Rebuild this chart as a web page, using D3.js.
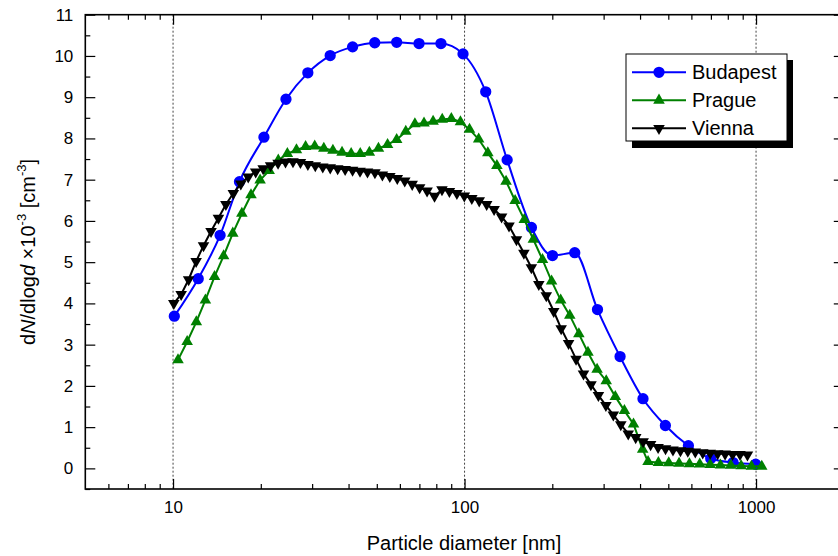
<!DOCTYPE html>
<html>
<head>
<meta charset="utf-8">
<script src="https://d3js.org/d3.v7.min.js"></script>
<style>
  body { margin: 0; background: #fff; }
  text { font-family: "Liberation Sans", Arial, Helvetica, sans-serif; }
</style>
</head>
<body>
<div id="chart"></div>
<script>
// Budapest (circles)
var budapestD = [10.1, 12.2, 14.5, 16.9, 20.5, 24.4, 29.0, 34.6, 41.3, 49.2, 58.5, 69.8, 83.0, 98.8,
                 118.2, 140, 169.6, 200.3, 238.8, 285.8, 341.6, 409.4, 488.6, 586, 699, 834, 997];
var budapestN = [3.69, 4.60, 5.65, 6.95, 8.03, 8.95, 9.59, 10.01, 10.22, 10.32, 10.33, 10.30, 10.30, 10.05,
                 9.13, 7.48, 5.84, 5.16, 5.23, 3.85, 2.71, 1.69, 1.04, 0.55, 0.24, 0.14, 0.10];

// Prague (up triangles)
var pragueD = [10.40, 11.18, 12.02, 12.91, 13.88, 14.91, 16.03, 17.22, 18.51, 19.89, 21.37, 22.96, 24.67,
               26.51, 28.49, 30.62, 32.90, 35.35, 37.99, 40.83, 43.87, 47.15, 50.66, 54.44, 58.50, 62.87,
               67.56, 72.60, 78.01, 83.83, 90.08, 96.80, 104.0, 111.8, 120.2, 129.1, 138.8, 149.1, 160.3,
               172.2, 185.1, 198.9, 213.7, 229.6, 246.7, 265.1, 284.9, 306.2, 329.0, 353.5, 379.9, 408.3,
               426.1, 462.4, 501.8, 544.4, 590.8, 641.0, 695.9, 755.0, 819.0, 889.0, 964.3, 1046];
var pragueN = [2.63, 3.07, 3.55, 4.08, 4.65, 5.15, 5.70, 6.18, 6.63, 6.99, 7.22, 7.47, 7.63,
               7.72, 7.80, 7.81, 7.76, 7.71, 7.66, 7.63, 7.63, 7.66, 7.76, 7.85, 7.97, 8.17,
               8.35, 8.37, 8.41, 8.46, 8.48, 8.40, 8.22, 7.98, 7.65, 7.34, 6.96, 6.49, 6.03,
               5.55, 5.06, 4.54, 4.08, 3.71, 3.26, 2.81, 2.40, 2.12, 1.74, 1.40, 1.07, 0.46,
               0.16, 0.14, 0.13, 0.12, 0.11, 0.10, 0.09, 0.08, 0.07, 0.06, 0.05, 0.05];

// Vienna (down triangles)
var viennaD = [10.06, 10.66, 11.31, 12.00, 12.72, 13.50, 14.31, 15.18, 16.10, 17.08, 18.11, 19.21, 20.38,
               21.61, 22.92, 24.31, 25.79, 27.35, 29.01, 30.76, 32.63, 34.61, 36.71, 38.94, 41.29, 43.80,
               46.45, 49.27, 52.26, 55.42, 58.78, 62.35, 66.12, 70.14, 74.38, 78.89, 83.68, 88.74, 94.13,
               99.82, 105.9, 112.3, 119.1, 126.3, 134.0, 142.1, 150.7, 159.8, 169.5, 179.8, 190.7, 202.3,
               214.5, 227.5, 241.3, 255.9, 271.5, 287.9, 305.4, 323.9, 343.6, 364.4, 386.5, 410.0, 434.8,
               461.2, 489.2, 518.8, 550.3, 583.4, 618.8, 656.4, 696.2, 738.4, 783.1, 830.7, 881.0, 934.3];
var viennaN = [4.00, 4.22, 4.58, 5.02, 5.40, 5.75, 6.07, 6.40, 6.67, 6.90, 7.07, 7.19, 7.27,
               7.34, 7.40, 7.43, 7.44, 7.42, 7.37, 7.34, 7.31, 7.29, 7.27, 7.25, 7.23, 7.21,
               7.19, 7.17, 7.12, 7.08, 7.03, 6.97, 6.89, 6.81, 6.73, 6.60, 6.76, 6.72, 6.67,
               6.61, 6.55, 6.49, 6.40, 6.28, 6.10, 5.88, 5.55, 5.22, 4.87, 4.46, 4.19, 3.81,
               3.39, 3.03, 2.65, 2.29, 2.03, 1.77, 1.53, 1.30, 1.06, 0.84, 0.75, 0.65, 0.58,
               0.51, 0.48, 0.45, 0.43, 0.42, 0.40, 0.38, 0.37, 0.36, 0.35, 0.34, 0.34, 0.33];

var xMajor = [10, 100, 1000];
var xMinor = [6, 7, 8, 9, 20, 30, 40, 50, 60, 70, 80, 90, 200, 300, 400, 500, 600, 700, 800, 900];
var yMajor = [0, 1, 2, 3, 4, 5, 6, 7, 8, 9, 10, 11];
var yMinor = [-0.5, 0.5, 1.5, 2.5, 3.5, 4.5, 5.5, 6.5, 7.5, 8.5, 9.5, 10.5];

var width = 838, height = 556;
var plotL = 85.3, plotR = 843.8, plotT = 14.7, plotB = 489;

var svg = d3.select("#chart").append("svg")
    .attr("width", width)
    .attr("height", height);

var x = d3.scaleLog().domain([5, 2000]).range([plotL, plotR]);
var y = d3.scaleLinear().domain([-0.5, 11]).range([plotB, plotT]);

// dotted grid lines at the decades
svg.append("g").selectAll("line")
    .data(xMajor)
    .enter().append("line")
    .attr("x1", function(d) { return x(d); })
    .attr("x2", function(d) { return x(d); })
    .attr("y1", plotT)
    .attr("y2", plotB)
    .attr("stroke", "#444")
    .attr("stroke-width", 1)
    .attr("stroke-dasharray", "2,2");

// axes (ticks pointing inwards)
function noDomain(g) { g.select(".domain").remove(); g.selectAll("line").attr("stroke-width", 1.2); }

svg.append("g").attr("transform", "translate(0," + plotB + ")")
    .call(d3.axisBottom(x).tickValues(xMajor).tickSize(-10).tickPadding(12).tickFormat(d3.format("d")))
    .call(noDomain)
    .selectAll("text").attr("font-size", 17).attr("fill", "#000")
    .style("font-family", "'Liberation Sans', Arial, sans-serif");
svg.append("g").attr("transform", "translate(0," + plotB + ")")
    .call(d3.axisBottom(x).tickValues(xMinor).tickSize(-5).tickFormat(""))
    .call(noDomain);
svg.append("g").attr("transform", "translate(0," + plotT + ")")
    .call(d3.axisTop(x).tickValues(xMajor).tickSize(-10).tickFormat(""))
    .call(noDomain);
svg.append("g").attr("transform", "translate(0," + plotT + ")")
    .call(d3.axisTop(x).tickValues(xMinor).tickSize(-5).tickFormat(""))
    .call(noDomain);

svg.append("g").attr("transform", "translate(" + plotL + ",0)")
    .call(d3.axisLeft(y).tickValues(yMajor).tickSize(-10).tickPadding(12).tickFormat(d3.format("d")))
    .call(noDomain)
    .selectAll("text").attr("font-size", 17).attr("fill", "#000")
    .style("font-family", "'Liberation Sans', Arial, sans-serif");
svg.append("g").attr("transform", "translate(" + plotL + ",0)")
    .call(d3.axisLeft(y).tickValues(yMinor).tickSize(-5).tickFormat(""))
    .call(noDomain);
svg.append("g").attr("transform", "translate(" + plotR + ",0)")
    .call(d3.axisRight(y).tickValues(yMajor).tickSize(-10).tickFormat(""))
    .call(noDomain);

// frame
svg.append("rect")
    .attr("x", plotL).attr("y", plotT)
    .attr("width", plotR - plotL).attr("height", plotB - plotT)
    .attr("fill", "none").attr("stroke", "#000").attr("stroke-width", 1.6);

// series
var series = [
    { name: "Budapest", d: budapestD, n: budapestN, color: "#0000ff", symbol: d3.symbolCircle, size: 100, rot: 0,
      curve: d3.curveMonotoneX },
    { name: "Prague", d: pragueD, n: pragueN, color: "#008000", symbol: d3.symbolTriangle, size: 58, rot: 0,
      curve: d3.curveLinear },
    { name: "Vienna", d: viennaD, n: viennaN, color: "#000000", symbol: d3.symbolTriangle, size: 58, rot: 180,
      curve: d3.curveLinear }
];

series.forEach(function(s) {
    var pts = s.d.map(function(d, i) { return [d, s.n[i]]; });
    var line = d3.line()
        .x(function(p) { return x(p[0]); })
        .y(function(p) { return y(p[1]); })
        .curve(s.curve);
    var g = svg.append("g");
    g.append("path")
        .datum(pts)
        .attr("d", line)
        .attr("fill", "none")
        .attr("stroke", s.color)
        .attr("stroke-width", 2);
    g.selectAll("path.m")
        .data(pts)
        .enter().append("path")
        .attr("class", "m")
        .attr("d", d3.symbol().type(s.symbol).size(s.size))
        .attr("transform", function(p) {
            return "translate(" + x(p[0]) + "," + y(p[1]) + ") rotate(" + s.rot + ")";
        })
        .attr("fill", s.color);
});

// legend
var lg = svg.append("g");
lg.append("rect").attr("x", 632).attr("y", 60).attr("width", 161).attr("height", 88).attr("fill", "#000");
lg.append("rect").attr("x", 626).attr("y", 54).attr("width", 161).attr("height", 87)
    .attr("fill", "#fff").attr("stroke", "#000").attr("stroke-width", 1);
series.forEach(function(s, i) {
    var ly = 72.3 + i * 28;
    lg.append("line").attr("x1", 632).attr("x2", 686).attr("y1", ly).attr("y2", ly)
        .attr("stroke", s.color).attr("stroke-width", 2);
    lg.append("path")
        .attr("d", d3.symbol().type(s.symbol).size(s.size)())
        .attr("transform", "translate(659," + ly + ") rotate(" + s.rot + ")")
        .attr("fill", s.color);
    lg.append("text").attr("x", 692).attr("y", ly + 7)
        .attr("font-size", 20).text(s.name);
});

// axis titles
svg.append("text")
    .attr("x", 464).attr("y", 550)
    .attr("text-anchor", "middle")
    .attr("font-size", 20)
    .text("Particle diameter [nm]");

var yt = svg.append("text")
    .attr("transform", "translate(35,252) rotate(-90)")
    .attr("text-anchor", "middle")
    .attr("font-size", 20);
yt.append("tspan").text("d");
yt.append("tspan").attr("font-style", "italic").text("N");
yt.append("tspan").text("/dlog");
yt.append("tspan").attr("font-style", "italic").text("d");
yt.append("tspan").text(" \u00d710");
yt.append("tspan").attr("font-size", 13).attr("dy", -9).text("-3");
yt.append("tspan").attr("dy", 9).text(" [cm");
yt.append("tspan").attr("font-size", 13).attr("dy", -9).text("-3");
yt.append("tspan").attr("dy", 9).text("]");
</script>
</body>
</html>
